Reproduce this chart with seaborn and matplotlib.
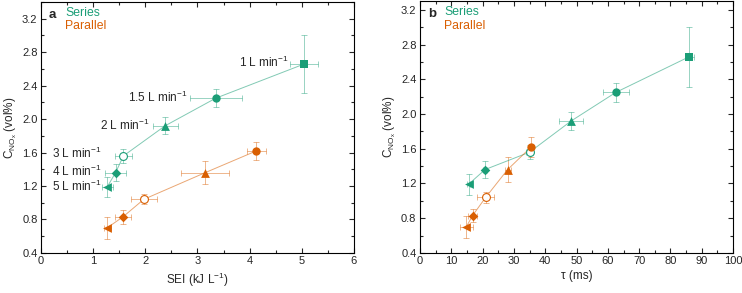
import numpy as np
import pandas as pd
import seaborn as sns
import matplotlib.pyplot as plt
from matplotlib.ticker import MultipleLocator

sns.set_style('ticks')
plt.rcParams['font.family'] = ['Liberation Sans', 'DejaVu Sans']
plt.rcParams['mathtext.fontset'] = 'custom'
plt.rcParams['mathtext.rm'] = 'Liberation Sans'
plt.rcParams['mathtext.it'] = 'Liberation Sans:italic'

# data
flow_s = ['1', '1.5', '2', '3', '4', '5']
sei_s = [5.05, 3.35, 2.38, 1.58, 1.43, 1.27]
sei_s_err = [0.27, 0.50, 0.24, 0.17, 0.20, 0.11]
tau_s = [86.0, 62.6, 48.3, 35.0, 20.8, 15.5]
tau_s_err = [1.5, 4.1, 3.9, 1.0, 0.6, 0.6]
c_s = [2.66, 2.25, 1.92, 1.56, 1.36, 1.19]
c_s_err = [0.345, 0.11, 0.10, 0.08, 0.10, 0.12]

flow_p = ['1.5', '2', '3', '4', '5']
sei_p = [4.13, 3.15, 1.97, 1.57, 1.27]
sei_p_err = [0.19, 0.46, 0.25, 0.16, 0.07]
tau_p = [35.5, 28.0, 21.0, 16.8, 14.8]
tau_p_err = [0.5, 1.0, 2.7, 1.4, 2.1]
c_p = [1.62, 1.36, 1.04, 0.83, 0.70]
c_p_err = [0.11, 0.14, 0.06, 0.08, 0.13]

marker_s = ['s', 'o', '^', 'o', 'D', '<']
marker_p = ['o', '^', 'o', 'D', '<']

green = '#1b9e77'
orange = '#d95f02'
msize = {'s': 30, 'o': 36, '^': 40, 'D': 24, '<': 40}

df_s = pd.DataFrame({'flow': flow_s, 'sei': sei_s, 'sei_err': sei_s_err, 'tau': tau_s,
                     'tau_err': tau_s_err, 'c': c_s, 'c_err': c_s_err, 'mk': marker_s})
df_p = pd.DataFrame({'flow': flow_p, 'sei': sei_p, 'sei_err': sei_p_err, 'tau': tau_p,
                     'tau_err': tau_p_err, 'c': c_p, 'c_err': c_p_err, 'mk': marker_p})

fig = plt.figure(figsize=(7.42, 2.93), dpi=100)
ax_a = fig.add_axes([0.0553, 0.137, 0.4217, 0.856])
ax_b = fig.add_axes([0.566, 0.137, 0.422, 0.859])


def draw(ax, xcol, xerr):
    for df, col in [(df_s, green), (df_p, orange)]:
        sns.lineplot(data=df, x=xcol, y='c', sort=False, color=col, lw=0.7,
                     alpha=0.55, ax=ax, zorder=2)
        ax.errorbar(df[xcol], df['c'], xerr=df[xerr], yerr=df['c_err'], fmt='none',
                    ecolor=col, elinewidth=0.7, capsize=2, capthick=0.7, alpha=0.45, zorder=1)
        for i in range(len(df)):
            row = df.iloc[[i]]
            mk = row['mk'].iloc[0]
            if row['flow'].iloc[0] == '3':
                sns.scatterplot(data=row, x=xcol, y='c', marker='o', s=32, facecolor='white',
                                edgecolor=col, linewidth=0.8, legend=False, ax=ax, zorder=3)
            else:
                sns.scatterplot(data=row, x=xcol, y='c', marker=mk, s=msize[mk], color=col,
                                linewidth=0, legend=False, ax=ax, zorder=3)
    ax.set_ylabel(r'C$_{\mathrm{NO_x}}$ (vol%)', fontsize=8.5, labelpad=2)
    ax.yaxis.set_major_locator(MultipleLocator(0.4))
    ax.yaxis.set_minor_locator(MultipleLocator(0.2))
    ax.tick_params(which='both', direction='in', top=True, right=True, labelsize=8,
                   width=0.8, pad=2.5)
    ax.tick_params(which='major', length=3.5)
    ax.tick_params(which='minor', length=2)
    for sp in ax.spines.values():
        sp.set_linewidth(0.8)
        sp.set_color('black')


draw(ax_a, 'sei', 'sei_err')
ax_a.set_xlim(0, 6)
ax_a.set_ylim(0.4, 3.4)
ax_a.xaxis.set_major_locator(MultipleLocator(1))
ax_a.xaxis.set_minor_locator(MultipleLocator(0.5))
ax_a.set_xlabel(r'SEI (kJ L$^{-1}$)', fontsize=8.5, labelpad=3)

label_x = [4.74, 2.81, 2.08, 1.16, 1.16, 1.16]
label_y = [2.68, 2.26, 1.93, 1.59, 1.38, 1.20]
for f, lx, ly in zip(flow_s, label_x, label_y):
    ax_a.text(lx, ly, f + r' L min$^{-1}$', ha='right', va='center', fontsize=8.5)

draw(ax_b, 'tau', 'tau_err')
ax_b.set_xlim(0, 100)
ax_b.set_ylim(0.4, 3.3)
ax_b.xaxis.set_major_locator(MultipleLocator(10))
ax_b.xaxis.set_minor_locator(MultipleLocator(5))
ax_b.set_xlabel('τ (ms)', fontsize=8.5, labelpad=3)

for ax, lab in [(ax_a, 'a'), (ax_b, 'b')]:
    ax.text(0.025, 0.95, lab, transform=ax.transAxes, fontsize=9.5, fontweight='bold',
            va='center')
    ax.text(0.078, 0.958, 'Series', transform=ax.transAxes, fontsize=8.8, color=green,
            va='center')
    ax.text(0.078, 0.903, 'Parallel', transform=ax.transAxes, fontsize=8.8, color=orange,
            va='center')

plt.savefig('out.png', dpi=100)
